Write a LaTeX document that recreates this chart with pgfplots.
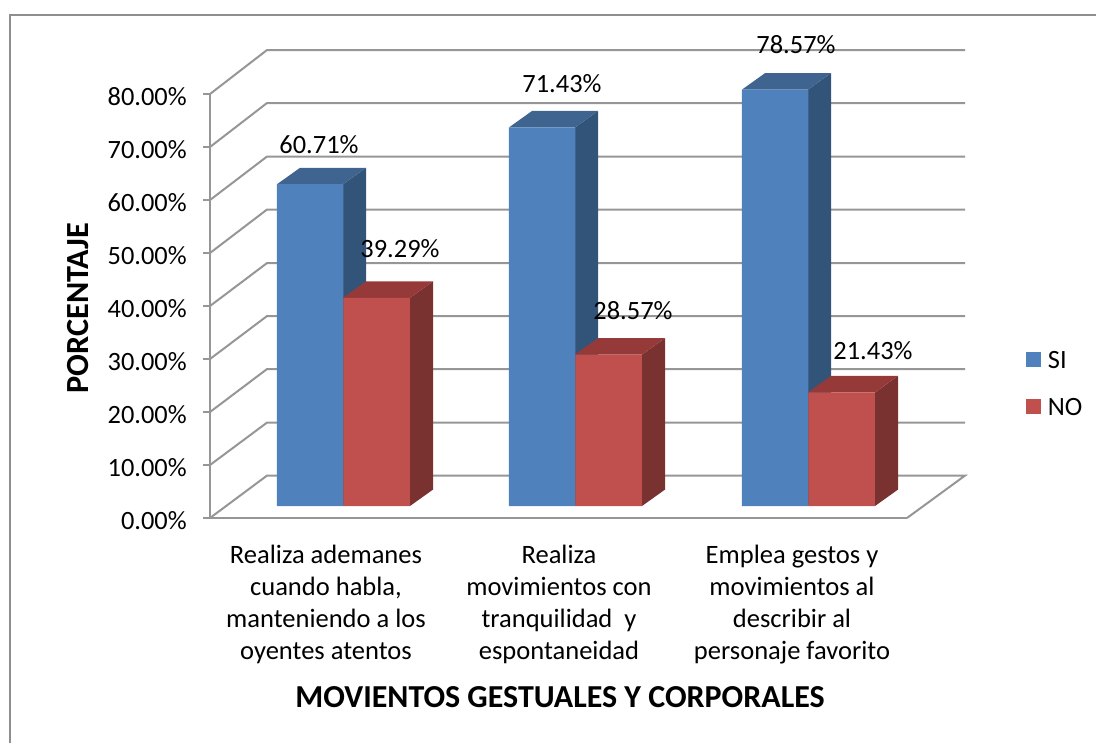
\documentclass[border=0pt]{standalone}
\usepackage{pgfplots}
\pgfplotsset{compat=1.18}
\usepackage{fontspec}
\setmainfont{Carlito}
\definecolor{gridc}{HTML}{969696}
\definecolor{framec}{HTML}{8E8E8E}
\definecolor{sifront}{HTML}{4F81BD}
\definecolor{sitop}{HTML}{3F6490}
\definecolor{siside}{HTML}{325479}
\definecolor{nofront}{HTML}{C0504D}
\definecolor{notop}{HTML}{953A38}
\definecolor{noside}{HTML}{7A3230}
\newcommand{\lab}[3]{\node[anchor=center,inner sep=0pt] at (axis cs:#1,#2) {\fontsize{19.8}{24}\selectfont #3};}
\begin{document}
\begin{tikzpicture}[x=0.75pt,y=0.75pt]
\path[use as bounding box] (0,0) rectangle (1096,743);
\draw[framec,line width=1.2pt] (10,0) -- (10,728) -- (1096,728);
\begin{axis}[
  at={(157.5pt,168.75pt)}, anchor=south west,
  scale only axis, width=522.75pt, height=318pt,
  xmin=210, xmax=907, ymin=0, ymax=80,
  clip=false,
  axis x line=bottom, axis y line=left,
  axis line style={gridc,line width=1.5pt,-},
  xtick={326,559,792},
  xticklabels={{Realiza ademanes\\cuando habla,\\manteniendo a los\\oyentes atentos},
               {Realiza\\movimientos con\\tranquilidad\ \ y\\espontaneidad},
               {Emplea gestos y\\movimientos al\\describir al\\personaje favorito}},
  xticklabel style={align=center,font=\fontsize{19.9}{24}\selectfont,inner sep=0pt,yshift=-15pt},
  x tick style={draw=none},
  ytick={0,10,20,30,40,50,60,70,80},
  yticklabels={0.00\%,10.00\%,20.00\%,30.00\%,40.00\%,50.00\%,60.00\%,70.00\%,80.00\%},
  yticklabel style={font=\fontsize{19.8}{24}\selectfont,inner sep=0pt,xshift=-12pt,yshift=-2pt},
  y tick style={gridc,line width=1.5pt},
  tick align=outside, major tick length=5.25pt,
  xlabel={MOVIENTOS GESTUALES Y CORPORALES},
  ylabel={PORCENTAJE},
  every axis x label/.style={at={(axis cs:560,-33.8)},anchor=center,font=\fontsize{24}{28}\selectfont\bfseries},
  every axis y label/.style={at={(axis cs:78,39.6)},rotate=90,anchor=center,font=\fontsize{24.2}{28}\selectfont\bfseries},
  legend cell align=left,
  legend style={at={(axis cs:1026,25.25)},anchor=west,draw=none,fill=none,inner sep=0pt,
    font=\fontsize{19.8}{24}\selectfont,row sep=17pt,
    /tikz/every even column/.style={column sep=3pt}},
  legend image code/.code={\fill[#1] (0pt,-13.85pt) rectangle (11.25pt,-2.65pt);},
]
% walls
\addplot[gridc,line width=1.5pt,forget plot] coordinates {(210,0)(267,8)(965,8)(907,0)};
\addplot[gridc,line width=1.5pt,forget plot] coordinates {(210,10)(267,18)(965,18)};
\addplot[gridc,line width=1.5pt,forget plot] coordinates {(210,20)(267,28.1)(965,28.1)};
\addplot[gridc,line width=1.5pt,forget plot] coordinates {(210,30)(267,38.1)(965,38.1)};
\addplot[gridc,line width=1.5pt,forget plot] coordinates {(210,40)(267,48.1)(965,48.1)};
\addplot[gridc,line width=1.5pt,forget plot] coordinates {(210,50)(267,58.2)(965,58.2)};
\addplot[gridc,line width=1.5pt,forget plot] coordinates {(210,60)(267,68.2)(965,68.2)};
\addplot[gridc,line width=1.5pt,forget plot] coordinates {(210,70)(267,78.3)(965,78.3)};
\addplot[gridc,line width=1.5pt,forget plot] coordinates {(210,80)(267,88.3)(965,88.3)};
% SI depth faces
\addplot[fill=siside,draw=none,forget plot,yshift=9pt] coordinates {(343,0)(366,3.1)(366,63.81)(343,60.71)} -- cycle;
\addplot[fill=sitop,draw=none,forget plot,yshift=9pt] coordinates {(277,60.71)(300,63.81)(366,63.81)(343,60.71)} -- cycle;
\addplot[fill=siside,draw=none,forget plot,yshift=9pt] coordinates {(575,0)(598,3.1)(598,74.53)(575,71.43)} -- cycle;
\addplot[fill=sitop,draw=none,forget plot,yshift=9pt] coordinates {(509,71.43)(532,74.53)(598,74.53)(575,71.43)} -- cycle;
\addplot[fill=siside,draw=none,forget plot,yshift=9pt] coordinates {(808,0)(831,3.1)(831,81.67)(808,78.57)} -- cycle;
\addplot[fill=sitop,draw=none,forget plot,yshift=9pt] coordinates {(742,78.57)(765,81.67)(831,81.67)(808,78.57)} -- cycle;
% SI
\addplot[ybar,bar width=66.5,bar shift=0pt,fill=sifront,draw=none,yshift=9pt]
  coordinates {(310,60.71)(542,71.43)(775,78.57)};
\addlegendentry{\hspace{3pt}SI}
% NO depth faces
\addplot[fill=noside,draw=none,forget plot,yshift=9pt] coordinates {(410,0)(433,3.1)(433,42.39)(410,39.29)} -- cycle;
\addplot[fill=notop,draw=none,forget plot,yshift=9pt] coordinates {(343,39.29)(366,42.39)(433,42.39)(410,39.29)} -- cycle;
\addplot[fill=noside,draw=none,forget plot,yshift=9pt] coordinates {(642,0)(665,3.1)(665,31.67)(642,28.57)} -- cycle;
\addplot[fill=notop,draw=none,forget plot,yshift=9pt] coordinates {(575,28.57)(598,31.67)(665,31.67)(642,28.57)} -- cycle;
\addplot[fill=noside,draw=none,forget plot,yshift=9pt] coordinates {(875,0)(898,3.1)(898,24.53)(875,21.43)} -- cycle;
\addplot[fill=notop,draw=none,forget plot,yshift=9pt] coordinates {(808,21.43)(831,24.53)(898,24.53)(875,21.43)} -- cycle;
% NO
\addplot[ybar,bar width=66.5,bar shift=0pt,fill=nofront,draw=none,yshift=9pt]
  coordinates {(376.5,39.29)(608.5,28.57)(841.5,21.43)};
\addlegendentry{\hspace{3pt}NO}
% data labels
\lab{319}{70.4}{60.71\%}
\lab{400}{50.75}{39.29\%}
\lab{562}{81.9}{71.43\%}
\lab{633}{39.06}{28.57\%}
\lab{796}{89.4}{78.57\%}
\lab{873}{31.5}{21.43\%}
\end{axis}
\end{tikzpicture}
\end{document}
